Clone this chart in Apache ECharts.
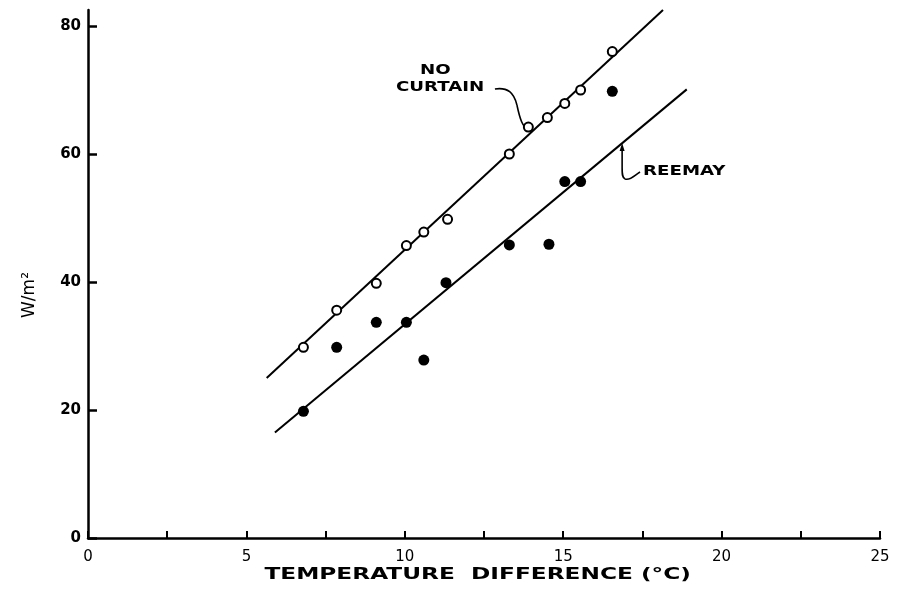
<!DOCTYPE html>
<html><head><meta charset="utf-8">
<script src="https://cdn.jsdelivr.net/npm/echarts@6/dist/echarts.min.js"></script>
<style>html,body{margin:0;padding:0;background:#fff}#c{width:900px;height:602px}</style>
</head><body><div id="c"></div>
<script>
// Data
const noCurtainX = [6.8, 7.85, 9.1, 10.05, 10.6, 11.35, 13.3, 13.9, 14.5, 15.05, 15.55, 16.55];
const noCurtainY = [29.8, 35.6, 39.8, 45.7, 47.8, 49.8, 60.0, 64.2, 65.7, 67.9, 70.0, 76.0];
const reemayX = [6.8, 7.85, 9.1, 10.05, 10.6, 11.3, 13.3, 14.55, 15.05, 15.55, 16.55];
const reemayY = [19.8, 29.8, 33.7, 33.7, 27.8, 39.9, 45.8, 45.9, 55.7, 55.7, 69.8];
// fitted lines (end points as drawn)
const noCurtainFitX = [5.64, 18.15];
const noCurtainFitY = [25.0, 82.5];
const reemayFitX = [5.9, 18.9];
const reemayFitY = [16.5, 70.1];
const xTickLabels = [0, 5, 10, 15, 20, 25];
const yTickLabels = [0, 20, 40, 60, 80];
const xTitle = 'TEMPERATURE  DIFFERENCE (°C)';
const yTitle = 'W/m²';

const zip = (a, b) => a.map((v, i) => [v, b[i]]);
const font = "'DejaVu Sans', sans-serif";
const chart = echarts.init(document.getElementById('c'), null, {renderer: 'canvas'});
chart.setOption({
  animation: false,
  backgroundColor: '#fff',
  grid: {left: 88, right: 20, top: 10, bottom: 64, containLabel: false},
  xAxis: {
    type: 'value', min: 0, max: 25, interval: 2.5,
    splitLine: {show: false},
    axisLine: {lineStyle: {color: '#000', width: 2.5}},
    axisTick: {inside: true, length: 7, lineStyle: {color: '#000', width: 2}},
    axisLabel: {
      color: '#000', fontSize: 15, fontFamily: font, margin: 12,
      formatter: v => xTickLabels.includes(v) ? String(v) : ''
    }
  },
  yAxis: {
    type: 'value', min: 0, max: 82.5,
    splitLine: {show: false},
    axisLine: {lineStyle: {color: '#000', width: 2.5}},
    axisTick: {inside: true, length: 9, customValues: yTickLabels, lineStyle: {color: '#000', width: 2.5}},
    axisLabel: {color: '#000', fontSize: 15, fontWeight: 'bold', fontFamily: font, margin: 7, customValues: yTickLabels},
    name: yTitle, nameLocation: 'middle', nameRotate: 90, nameGap: 50,
    nameTextStyle: {color: '#000', fontSize: 17, fontFamily: font, padding: [0, 42, 0, 0]}
  },
  series: [
    {type: 'line', data: zip(noCurtainFitX, noCurtainFitY), symbol: 'none',
     lineStyle: {color: '#000', width: 2}, clip: false, z: 1},
    {type: 'line', data: zip(reemayFitX, reemayFitY), symbol: 'none',
     lineStyle: {color: '#000', width: 2}, clip: false, z: 1},
    {type: 'scatter', name: 'No curtain', data: zip(noCurtainX, noCurtainY),
     symbol: 'circle', symbolSize: 9,
     itemStyle: {color: '#fff', borderColor: '#000', borderWidth: 2, opacity: 1}, z: 3},
    {type: 'scatter', name: 'Reemay', data: zip(reemayX, reemayY),
     symbol: 'circle', symbolSize: 11,
     itemStyle: {color: '#000', opacity: 1}, z: 3}
  ]
});

// Annotations positioned from data coordinates
const P = (x, y) => chart.convertToPixel({gridIndex: 0}, [x, y]);
const nc = P(9.72, 70.47);   // CURTAIN label left/middle
const ncTip = P(13.9, 63.8); // leader tip on line
const rm = P(17.52, 57.34);  // REEMAY label left/middle
const rmTip = P(16.86, 61.7);
const xt = P(12.3, 0);
const ts = {fill: '#000', font: 'bold 14px ' + font, align: 'left', verticalAlign: 'middle'};
const ln = {stroke: '#000', fill: null, lineWidth: 1.6};
chart.setOption({
  graphic: [
    {type: 'text', x: xt[0], y: xt[1] + 37, scaleX: 1.55,
     style: {text: xTitle, fill: '#000', font: 'bold 15px ' + font, align: 'center', verticalAlign: 'middle'}},
    {type: 'text', x: nc[0] + 24, y: nc[1] - 17, scaleX: 1.3, style: Object.assign({text: 'NO'}, ts)},
    {type: 'text', x: nc[0], y: nc[1], scaleX: 1.3, style: Object.assign({text: 'CURTAIN'}, ts)},
    {type: 'bezierCurve', shape: {x1: nc[0]+99, y1: nc[1]+2, cpx1: nc[0]+112, cpy1: nc[1], cpx2: nc[0]+118, cpy2: nc[1]+6, x2: nc[0]+121, y2: nc[1]+18}, style: ln},
    {type: 'bezierCurve', shape: {x1: nc[0]+121, y1: nc[1]+18, cpx1: nc[0]+124, cpy1: nc[1]+32, cpx2: ncTip[0]-6, cpy2: ncTip[1]-3, x2: ncTip[0], y2: ncTip[1]}, style: ln},
    {type: 'text', x: rm[0], y: rm[1], scaleX: 1.3, style: Object.assign({text: 'REEMAY'}, ts)},
    {type: 'bezierCurve', shape: {x1: rm[0]-3, y1: rm[1]+1, cpx1: rm[0]-8, cpy1: rm[1]+4, cpx2: rmTip[0]+8, cpy2: rm[1]+10, x2: rmTip[0]+3, y2: rm[1]+8}, style: ln},
    {type: 'bezierCurve', shape: {x1: rmTip[0]+3, y1: rm[1]+8, cpx1: rmTip[0], cpy1: rm[1]+7, cpx2: rmTip[0], cpy2: rm[1]+3, x2: rmTip[0], y2: rm[1]-3}, style: ln},
    {type: 'line', shape: {x1: rmTip[0], y1: rm[1]-3, x2: rmTip[0], y2: rmTip[1]+6}, style: ln},
    {type: 'polygon', shape: {points: [[rmTip[0], rmTip[1]], [rmTip[0]-2.5, rmTip[1]+8], [rmTip[0]+2.5, rmTip[1]+8]]},
     style: {fill: '#000'}}
  ]
});
</script></body></html>
